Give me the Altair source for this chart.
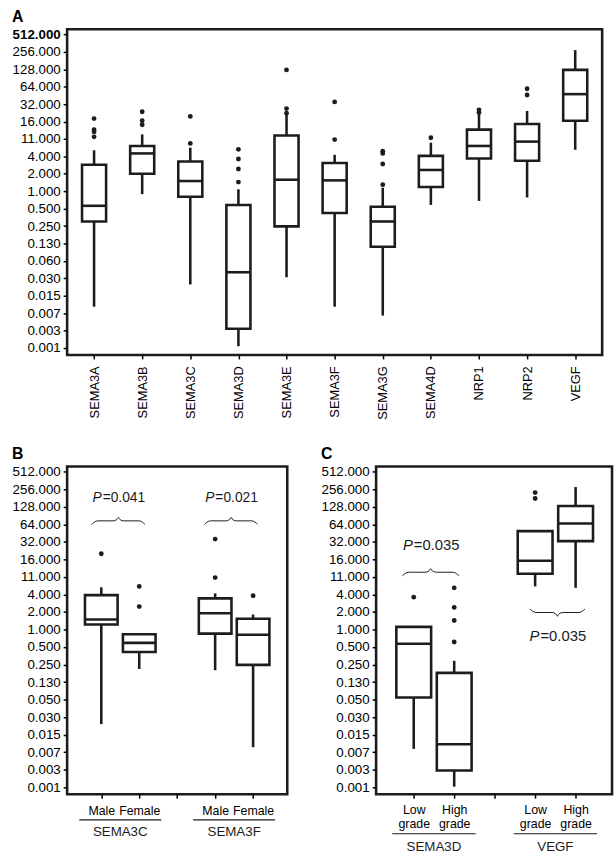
import json
import altair as alt
import numpy as np
import pandas as pd

FONT = "Liberation Sans"
INK = "#1c1c1c"

# ---------------- data ----------------
# y tick labels, one per octave from 2^9 (top) down to 2^-9 (bottom)
ylab_A = ["512.000", "256.000", "128.000", "64.000", "32.000", "16.000", "11.000",
          "4.000", "2.000", "1.000", "0.500", "0.250", "0.130", "0.060", "0.030",
          "0.015", "0.007", "0.003", "0.001"]
ylab_BC = ["512.000", "256.000", "128.000", "64.000", "32.000", "16.000", "11.000",
           "4.000", "2.000", "1.000", "0.500", "0.250", "0.130", "0.050", "0.030",
           "0.015", "0.007", "0.003", "0.001"]

# Panel A
genes_A = ["SEMA3A", "SEMA3B", "SEMA3C", "SEMA3D", "SEMA3E", "SEMA3F", "SEMA3G",
           "SEMA4D", "NRP1", "NRP2", "VEGF"]
lo_A = [0.0101, 0.89, 0.0245, 0.0021, 0.0326, 0.0101, 0.0071, 0.58, 0.68, 0.78, 5.2]
q1_A = [0.30, 2.0, 0.80, 0.0042, 0.247, 0.42, 0.11, 1.18, 3.68, 3.36, 16.5]
med_A = [0.56, 4.5, 1.5, 0.0398, 1.58, 1.54, 0.30, 2.33, 6.06, 7.2, 47.6]
q3_A = [2.87, 6.06, 3.27, 0.58, 9.2, 3.07, 0.54, 4.08, 11.6, 14.5, 125]
hi_A = [5.1, 9.6, 5.66, 1.08, 21, 4.25, 1.15, 6.9, 22, 24.4, 274]
out_A = [[8.7, 10.6, 11.6, 18], [14.1, 16.5, 23.6], [6.7, 19.6], [1.44, 2.42, 3.6, 5.3],
         [22.3, 26.8, 125], [7.8, 35], [1.3, 2.95, 4.5, 4.9], [8.4], [22.9, 25.5],
         [46, 59], []]

# Panel B (gender)
ticks_B = ["Male", "Female", "", "Male", "Female"]
groups_B = ["SEMA3C", "SEMA3F"]
pos_B = [0, 1, 3, 4]
lo_B = [0.0237, 0.21, 0.20, 0.0095]
q1_B = [1.22, 0.41, 0.85, 0.247]
med_B = [1.49, 0.59, 1.9, 0.81]
q3_B = [3.9, 0.83, 3.43, 1.53]
hi_B = [5.3, 0.83, 4.17, 1.81]
out_B = [[20], [2.48, 5.5], [7.8, 35.8], [3.8]]
p_B = ["=0.041", "=0.021"]

# Panel C (grade)
ticks_C = [["Low", "grade"], ["High", "grade"], "", ["Low", "grade"], ["High", "grade"]]
groups_C = ["SEMA3D", "VEGF"]
pos_C = [0, 1, 3, 4]
lo_C = [0.0089, 0.002, 5.5, 5.2]
q1_C = [0.068, 0.0038, 9.1, 33]
med_C = [0.57, 0.0107, 15.2, 66]
q3_C = [1.11, 0.18, 49, 132]
hi_C = [1.11, 0.29, 49, 280]
out_C = [[3.6], [0.61, 1.43, 2.4, 5.2], [178, 225], []]
p_C = ["=0.035", "=0.035"]

# annotation placement (brace centre, half width, level in octaves, direction, P label level)
brace_B = [(0.45, 0.7, 6.2, 1, 7.5), (3.42, 0.7, 6.2, 1, 7.5)]
brace_C = [(0.42, 0.7, 3.27, 1, 4.82), (3.55, 0.68, 0.97, -1, -0.37)]

# ---------------- helpers ----------------
YDOM = [-9.4, 9.3]
TICKS = list(range(-9, 10))


def yaxis(labels, bold_top=False):
    kw = dict(values=TICKS, tickCount=len(TICKS),
              labelExpr=json.dumps(labels) + "[9 - datum.value]",
              title=None, grid=False, domain=False, tickSize=4, tickWidth=1.5,
              labelFont=FONT, labelFontSize=13.5, labelColor="black", tickColor="black",
              labelPadding=3, labelOverlap=False, labelFlush=False)
    if bold_top:
        kw["labelFontWeight"] = {"condition": {"test": "datum.value == 9", "value": "bold"},
                                 "value": "normal"}
    return alt.Axis(**kw)


def box_layers(pos, lo, q1, med, q3, hi, outs, hw, xscale, xaxis, ylabels, bold_top=False):
    df = pd.DataFrame({
        "x": pos,
        "xl": [p - hw for p in pos],
        "xr": [p + hw for p in pos],
        "lo": np.log2(lo), "q1": np.log2(q1), "med": np.log2(med),
        "q3": np.log2(q3), "hi": np.log2(hi),
    })
    orows = [{"x": p, "v": float(np.log2(v))} for p, vs in zip(pos, outs) for v in vs]
    odf = pd.DataFrame(orows, columns=["x", "v"])
    ysc = alt.Scale(domain=YDOM, nice=False, zero=False)

    whisk = alt.Chart(df).mark_rule(color=INK, strokeWidth=2.6).encode(
        x=alt.X("x:Q", scale=xscale, axis=xaxis),
        y=alt.Y("lo:Q", scale=ysc, axis=yaxis(ylabels, bold_top)),
        y2="hi:Q")
    box = alt.Chart(df).mark_rect(fill="white", stroke=INK, strokeWidth=2.6).encode(
        x=alt.X("xl:Q", scale=xscale), x2="xr:Q",
        y=alt.Y("q1:Q", scale=ysc), y2="q3:Q")
    medl = alt.Chart(df).mark_rule(color=INK, strokeWidth=2.6).encode(
        x=alt.X("xl:Q", scale=xscale), x2="xr:Q",
        y=alt.Y("med:Q", scale=ysc))
    pts = alt.Chart(odf).mark_circle(color=INK, size=24, opacity=1).encode(
        x=alt.X("x:Q", scale=xscale), y=alt.Y("v:Q", scale=ysc))
    return [whisk, box, medl, pts], ysc


def brace_df(specs):
    u = [-1, -0.9, -0.78, -0.2, -0.07, 0, 0.07, 0.2, 0.78, 0.9, 1]
    v = [-1, -0.35, 0, 0, 0.3, 1, 0.3, 0, 0, -0.35, -1]
    rows = []
    for k, (c, h, lvl, d, _) in enumerate(specs):
        for i, (a, b) in enumerate(zip(u, v)):
            rows.append({"g": k, "i": i, "bx": c + a * h, "by": lvl + 0.2 * b * d})
    return pd.DataFrame(rows)


def annot_layers(specs, pvals, groups, xscale, ysc, height, fsize, line_off, text_off,
                 gline_half):
    bdf = brace_df(specs)
    brace = alt.Chart(bdf).mark_line(color=INK, strokeWidth=1, interpolate="monotone").encode(
        x=alt.X("bx:Q", scale=xscale), y=alt.Y("by:Q", scale=ysc),
        detail="g:N", order="i:Q")
    pdf = pd.DataFrame({"x": [s[0] for s in specs], "y": [s[4] for s in specs], "t": pvals})
    pw = fsize * 0.667
    tot = pw + fsize * (0.584 + 0.278 + 0.556 * 4)
    off = -(tot / 2 - pw)
    p1 = alt.Chart(pdf).mark_text(text="P", fontStyle="italic", font=FONT, fontSize=fsize,
                                  align="right", baseline="middle", dx=off, color=INK).encode(
        x=alt.X("x:Q", scale=xscale), y=alt.Y("y:Q", scale=ysc))
    p2 = alt.Chart(pdf).mark_text(font=FONT, fontSize=fsize, align="left",
                                  baseline="middle", dx=off + 1, color=INK).encode(
        x=alt.X("x:Q", scale=xscale), y=alt.Y("y:Q", scale=ysc), text="t:N")
    gdf = pd.DataFrame({"gx": [0.5, 3.5], "gl": [0.5 - gline_half, 3.5 - gline_half],
                        "gr": [0.5 + gline_half, 3.5 + gline_half], "name": groups})
    gline = alt.Chart(gdf).mark_rule(color=INK, strokeWidth=1.2).encode(
        x=alt.X("gl:Q", scale=xscale), x2="gr:Q", y=alt.value(height + line_off))
    gtext = alt.Chart(gdf).mark_text(font=FONT, fontSize=13.5, color=INK,
                                     baseline="middle").encode(
        x=alt.X("gx:Q", scale=xscale), y=alt.value(height + text_off), text="name:N")
    return [brace, p1, p2, gline, gtext]


def ptitle(t):
    return alt.TitleParams(t, anchor="start", font=FONT, fontSize=16, fontWeight="bold",
                           color="black", offset=3)


def xaxis(values, labels, angle, size, **extra):
    return alt.Axis(values=values, tickCount=len(values),
                    labelExpr=json.dumps(labels) + "[datum.value]",
                    labelAngle=angle, title=None, grid=False, domain=False, tickSize=4,
                    tickWidth=1.5, labelFont=FONT, labelFontSize=size, labelColor="black",
                    tickColor="black", labelOverlap=False, labelFlush=False, **extra)


# ---------------- panel A ----------------
xs_A = alt.Scale(domain=[-0.56, len(genes_A) - 0.44], nice=False, zero=False)
xa_A = xaxis(list(range(len(genes_A))), genes_A, -90, 13, labelPadding=7)
layA, _ = box_layers(list(range(len(genes_A))), lo_A, q1_A, med_A, q3_A, hi_A, out_A,
                     0.25, xs_A, xa_A, ylab_A, bold_top=True)
HA = 330
chartA = alt.layer(*layA).properties(width=542, height=HA, title=ptitle("A"))

# ---------------- panel B ----------------
HB = 332
xs_B = alt.Scale(domain=[-0.9, 4.9], nice=False, zero=False)
xa_B = xaxis([0, 1, 2, 3, 4], ticks_B, 0, 12.5, labelPadding=7)
layB, ysB = box_layers(pos_B, lo_B, q1_B, med_B, q3_B, hi_B, out_B, 0.43, xs_B, xa_B,
                       ylab_BC)
annB = annot_layers(brace_B, p_B, groups_B, xs_B, ysB, HB, 14, 26, 38, 1.08)
chartB = alt.layer(*layB, *annB).properties(width=223, height=HB, title=ptitle("B"))

# ---------------- panel C ----------------
xs_C = alt.Scale(domain=[-0.93, 4.9], nice=False, zero=False)
xa_C = xaxis([0, 1, 2, 3, 4], ticks_C, 0, 12.5, labelPadding=6, labelLineHeight=14)
layC, ysC = box_layers(pos_C, lo_C, q1_C, med_C, q3_C, hi_C, out_C, 0.43, xs_C, xa_C,
                       ylab_BC)
annC = annot_layers(brace_C, p_C, groups_C, xs_C, ysC, HB, 15, 40, 53, 1.03)
chartC = alt.layer(*layC, *annC).properties(width=239, height=HB, title=ptitle("C"))

chart = alt.vconcat(
    chartA,
    alt.hconcat(chartB, chartC, spacing=30),
    spacing=24,
).properties(
    padding={"left": 10, "top": 1, "right": 0, "bottom": 0},
    background="white",
).configure_view(
    stroke=INK, strokeWidth=2.6
)

chart.save("out.html", embed_options={"renderer": "svg", "actions": False})
